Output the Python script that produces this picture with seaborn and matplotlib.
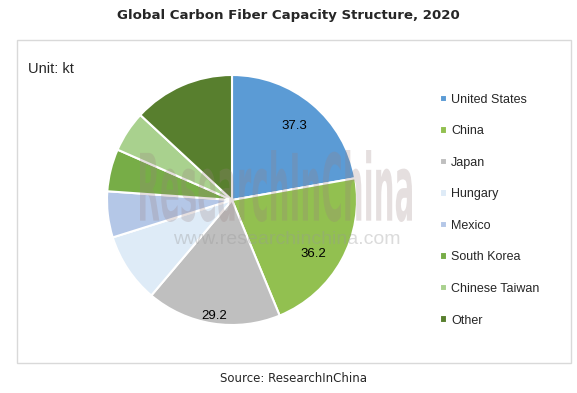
import matplotlib
matplotlib.use("Agg")
import matplotlib.pyplot as plt
import seaborn as sns
import numpy as np
from matplotlib.patches import Rectangle, PathPatch
from matplotlib.textpath import TextPath
from matplotlib.font_manager import FontProperties
from matplotlib.transforms import Affine2D

# ---- data ----
regions = ["United States", "China", "Japan", "Hungary", "Mexico",
           "South Korea", "Chinese Taiwan", "Other"]
capacity = [37.3, 36.2, 29.2, 15.1, 10.0, 9.2, 8.9, 22.0]
shown_labels = ["37.3", "36.2", "29.2", "", "", "", "", ""]
colors = ["#5B9BD5", "#92C050", "#BFBFBF", "#DEEBF7", "#B4C7E7",
          "#77AD47", "#A9D18E", "#587F2E"]
title = "Global Carbon Fiber Capacity Structure, 2020"
unit_text = "Unit: kt"
source_text = "Source: ResearchInChina"

sns.set_theme(style="white")
plt.rcParams["font.family"] = ["Liberation Sans", "DejaVu Sans"]
palette = sns.color_palette(colors)

W, H = 577, 393
fig = plt.figure(figsize=(W / 100, H / 100), dpi=100)
fig.patch.set_facecolor("white")

# frame box
fig.patches.append(Rectangle((17 / W, 1 - 363 / H), (571 - 17) / W, (363 - 40) / H,
                             transform=fig.transFigure, fill=False,
                             edgecolor="#D9D9D9", linewidth=1.0, zorder=0))

# pie axes
cx, cy, R = 232, 200, 125
ax = fig.add_axes([(cx - R) / W, 1 - (cy + R) / H, 2 * R / W, 2 * R / H])
wedges, _ = ax.pie(capacity, colors=palette, startangle=90, counterclock=False,
                   radius=1.0,
                   wedgeprops=dict(edgecolor="white", linewidth=1.5))
ax.set_xlim(-1, 1)
ax.set_ylim(-1, 1)
ax.set_aspect("equal")
ax.axis("off")

label_r = [0.77, 0.78, 0.94, 0.8, 0.8, 0.8, 0.8, 0.8]
label_dang = [0, -4.5, 0, 0, 0, 0, 0, 0]
for w, lab, r, da in zip(wedges, shown_labels, label_r, label_dang):
    if not lab:
        continue
    ang = np.deg2rad((w.theta1 + w.theta2) / 2 + da)
    ax.text(r * np.cos(ang), r * np.sin(ang), lab, ha="center", va="center",
            fontsize=9.5, color="black", zorder=10)

# watermark
fp = FontProperties(family="DejaVu Sans", weight="bold")
tp = TextPath((0, 0), "ResearchInChina", prop=fp, size=10)
bb = tp.get_extents()
x0, x1, y0, y1 = 140, 412, 150, 222
sx = (x1 - x0) / bb.width / W
sy = (y1 - y0) / bb.height / H
tr = Affine2D().translate(-bb.x0, -bb.y0).scale(sx, sy).translate(x0 / W, 1 - y1 / H)
wm = PathPatch(tr.transform_path(tp), transform=fig.transFigure,
               facecolor="#9A8080", edgecolor="none", alpha=0.25, zorder=5)
fig.patches.append(wm)
fig.text(287 / W, 1 - 239 / H, "www.researchinchina.com", ha="center", va="center",
         fontsize=14, color="#999999", alpha=0.35, zorder=5,
         family=["Liberation Sans", "DejaVu Sans"])

# legend
leg = fig.legend(wedges, regions, loc="upper left",
                 bbox_to_anchor=(435 / W, 1 - 89 / H), frameon=False,
                 fontsize=9, handlelength=0.55, handleheight=0.55,
                 handletextpad=0.35, labelspacing=1.56, borderaxespad=0)

# texts
fig.text(0.5, 1 - 16 / H, title, ha="center", va="center", fontsize=9.6,
         fontweight="bold", family=["DejaVu Sans"])
fig.text(28 / W, 1 - 69 / H, unit_text, ha="left", va="center", fontsize=10.5)
fig.text(294 / W, 1 - 379 / H, source_text, ha="center", va="center",
         fontsize=8.5, family=["DejaVu Sans"])

fig.savefig("out.png", dpi=100, facecolor="white")
